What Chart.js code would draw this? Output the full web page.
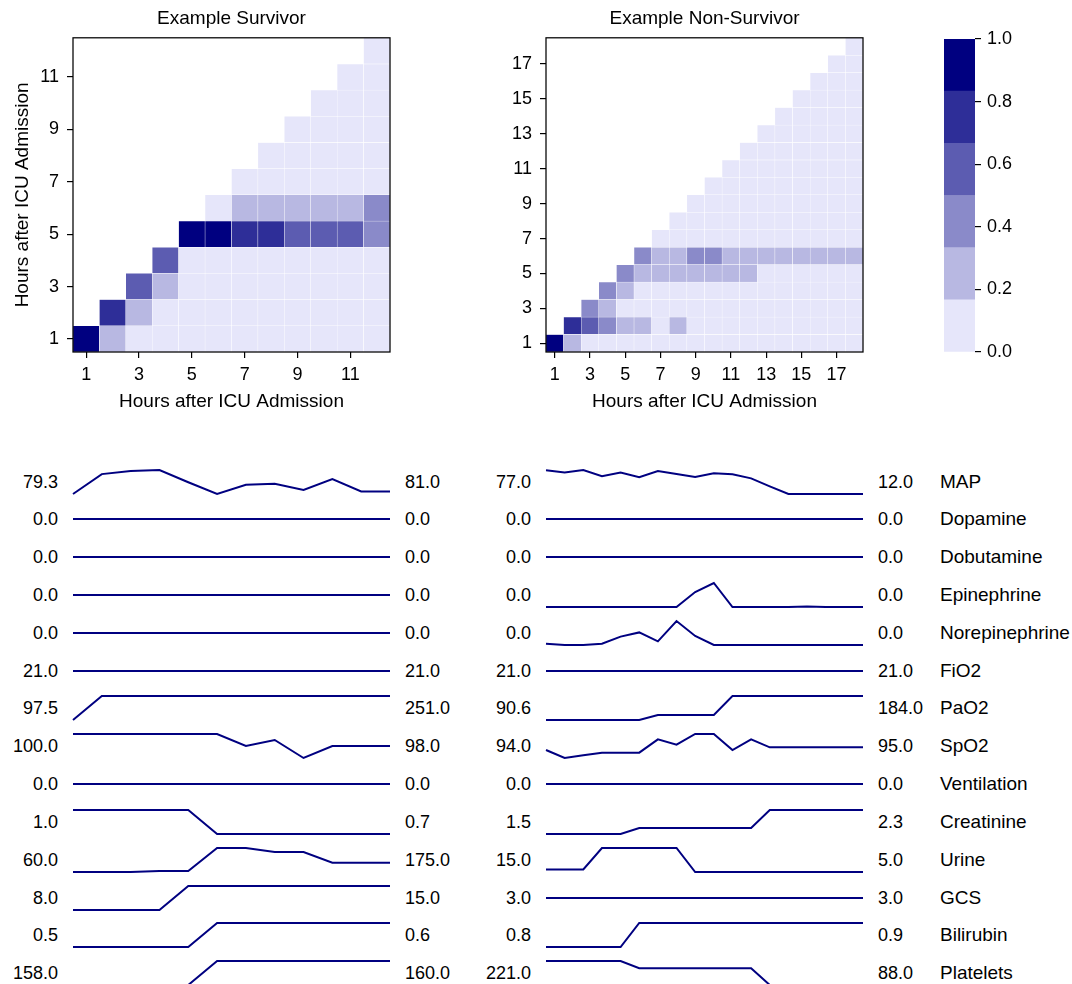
<!DOCTYPE html>
<html>
<head>
<meta charset="utf-8">
<script src="https://cdn.jsdelivr.net/npm/chart.js@4.4.1/dist/chart.umd.min.js"></script>
<style>
  html, body { margin: 0; padding: 0; background: #fff; }
  #page { position: relative; width: 1072px; height: 984px; overflow: hidden;
          font-family: "Liberation Sans", Arial, sans-serif; }
  .box { position: absolute; }
  .lbl { position: absolute; font-size: 18px; line-height: 22px; height: 22px;
         white-space: nowrap; color: #000; }
  .lbl.r { text-align: right; width: 80px; }
  .lbl.name { font-size: 19px; }
</style>
</head>
<body>
<div id="page"></div>
<script>
/* ==================== DATA ==================== */
const survivorHours = ['1','2','3','4','5','6','7','8','9','10','11','12'];
const nonSurvivorHours = ['1','2','3','4','5','6','7','8','9','10','11','12','13','14','15','16','17','18'];
const colorbarTicks = [0.0, 0.2, 0.4, 0.6, 0.8, 1.0];

// heatmap: row k (hour k+1 on y) holds the values for x = k+1 .. N
const survivorGrid = [
  [1.00, 0.28, 0.05, 0.04, 0.03, 0.03, 0.02, 0.02, 0.02, 0.02, 0.02, 0.02],
  [0.78, 0.25, 0.05, 0.04, 0.03, 0.03, 0.03, 0.02, 0.02, 0.02, 0.02],
  [0.62, 0.30, 0.06, 0.05, 0.04, 0.04, 0.03, 0.03, 0.03, 0.03],
  [0.58, 0.08, 0.06, 0.05, 0.05, 0.04, 0.04, 0.04, 0.04],
  [1.00, 0.92, 0.80, 0.74, 0.60, 0.58, 0.55, 0.45],
  [0.10, 0.30, 0.28, 0.27, 0.25, 0.26, 0.42],
  [0.12, 0.10, 0.10, 0.09, 0.09, 0.08],
  [0.10, 0.10, 0.09, 0.09, 0.08],
  [0.10, 0.09, 0.09, 0.08],
  [0.09, 0.08, 0.08],
  [0.08, 0.08],
  [0.07]
];
const nonSurvivorGrid = [
  [1.00, 0.25, 0.03, 0.03, 0.03, 0.03, 0.03, 0.03, 0.03, 0.03, 0.03, 0.03, 0.03, 0.03, 0.03, 0.03, 0.03, 0.03],
  [0.72, 0.55, 0.40, 0.30, 0.26, 0.12, 0.22, 0.05, 0.05, 0.05, 0.05, 0.05, 0.05, 0.05, 0.05, 0.05, 0.05],
  [0.45, 0.25, 0.06, 0.06, 0.06, 0.06, 0.06, 0.06, 0.06, 0.06, 0.06, 0.06, 0.06, 0.06, 0.06, 0.06],
  [0.42, 0.22, 0.07, 0.07, 0.07, 0.07, 0.07, 0.07, 0.07, 0.07, 0.07, 0.07, 0.07, 0.07, 0.07],
  [0.40, 0.24, 0.28, 0.26, 0.27, 0.25, 0.22, 0.21, 0.10, 0.10, 0.09, 0.09, 0.08, 0.08],
  [0.42, 0.25, 0.24, 0.38, 0.36, 0.22, 0.20, 0.20, 0.21, 0.20, 0.19, 0.20, 0.21],
  [0.10, 0.09, 0.09, 0.08, 0.08, 0.08, 0.08, 0.07, 0.07, 0.07, 0.07, 0.07],
  [0.09, 0.09, 0.08, 0.08, 0.08, 0.07, 0.07, 0.07, 0.07, 0.07, 0.07],
  [0.09, 0.08, 0.08, 0.08, 0.07, 0.07, 0.07, 0.07, 0.07, 0.06],
  [0.08, 0.08, 0.08, 0.07, 0.07, 0.07, 0.07, 0.06, 0.06],
  [0.08, 0.08, 0.07, 0.07, 0.07, 0.06, 0.06, 0.06],
  [0.08, 0.07, 0.07, 0.07, 0.06, 0.06, 0.06],
  [0.07, 0.07, 0.07, 0.06, 0.06, 0.06],
  [0.07, 0.07, 0.06, 0.06, 0.06],
  [0.07, 0.06, 0.06, 0.06],
  [0.06, 0.06, 0.06],
  [0.06, 0.06],
  [0.06]
];

const variables = ['MAP', 'Dopamine', 'Dobutamine', 'Epinephrine', 'Norepinephrine', 'FiO2', 'PaO2',
  'SpO2', 'Ventilation', 'Creatinine', 'Urine', 'GCS', 'Bilirubin', 'Platelets'];

// survivor, 12 hours
const sMAP = [79.3, 92.3, 94.3, 95.0, 87.0, 79.3, 85.3, 86.0, 82.0, 89.0, 81.0, 81.0];
const sDopamine = [0, 0, 0, 0, 0, 0, 0, 0, 0, 0, 0, 0];
const sDobutamine = [0, 0, 0, 0, 0, 0, 0, 0, 0, 0, 0, 0];
const sEpinephrine = [0, 0, 0, 0, 0, 0, 0, 0, 0, 0, 0, 0];
const sNorepinephrine = [0, 0, 0, 0, 0, 0, 0, 0, 0, 0, 0, 0];
const sFiO2 = [21, 21, 21, 21, 21, 21, 21, 21, 21, 21, 21, 21];
const sPaO2 = [97.5, 251, 251, 251, 251, 251, 251, 251, 251, 251, 251, 251];
const sSpO2 = [100, 100, 100, 100, 100, 100, 98, 99, 96, 98, 98, 98];
const sVentilation = [0, 0, 0, 0, 0, 0, 0, 0, 0, 0, 0, 0];
const sCreatinine = [1.0, 1.0, 1.0, 1.0, 1.0, 0.7, 0.7, 0.7, 0.7, 0.7, 0.7, 0.7];
const sUrine = [60, 60, 60, 72, 72, 355, 355, 305, 305, 175, 175, 175];
const sGCS = [8, 8, 8, 8, 15, 15, 15, 15, 15, 15, 15, 15];
const sBilirubin = [0.5, 0.5, 0.5, 0.5, 0.5, 0.6, 0.6, 0.6, 0.6, 0.6, 0.6, 0.6];
const sPlatelets = [158, 158, 158, 158, 158, 160, 160, 160, 160, 160, 160, 160];

// non-survivor, 18 hours
const nMAP = [77, 71, 78, 61, 71, 58, 75, 67, 59, 69, 66, 55, 33, 12, 12, 12, 12, 12];
const nDopamine = [0, 0, 0, 0, 0, 0, 0, 0, 0, 0, 0, 0, 0, 0, 0, 0, 0, 0];
const nDobutamine = [0, 0, 0, 0, 0, 0, 0, 0, 0, 0, 0, 0, 0, 0, 0, 0, 0, 0];
const nEpinephrine = [0, 0, 0, 0, 0, 0, 0, 0, 0.025, 0.04, 0, 0, 0, 0, 0.001, 0, 0, 0];
const nNorepinephrine = [0.002, 0, 0, 0.002, 0.014, 0.021, 0.006, 0.04, 0.015, 0, 0, 0, 0, 0, 0, 0, 0, 0];
const nFiO2 = [21, 21, 21, 21, 21, 21, 21, 21, 21, 21, 21, 21, 21, 21, 21, 21, 21, 21];
const nPaO2 = [90.6, 90.6, 90.6, 90.6, 90.6, 90.6, 110, 110, 110, 110, 184, 184, 184, 184, 184, 184, 184, 184];
const nSpO2 = [94, 91, 92, 93, 93, 93, 98, 96, 100, 100, 94, 98, 95, 95, 95, 95, 95, 95];
const nVentilation = [0, 0, 0, 0, 0, 0, 0, 0, 0, 0, 0, 0, 0, 0, 0, 0, 0, 0];
const nCreatinine = [1.5, 1.5, 1.5, 1.5, 1.5, 1.7, 1.7, 1.7, 1.7, 1.7, 1.7, 1.7, 2.3, 2.3, 2.3, 2.3, 2.3, 2.3];
const nUrine = [15, 15, 15, 100, 100, 100, 100, 100, 5, 5, 5, 5, 5, 5, 5, 5, 5, 5];
const nGCS = [3, 3, 3, 3, 3, 3, 3, 3, 3, 3, 3, 3, 3, 3, 3, 3, 3, 3];
const nBilirubin = [0.8, 0.8, 0.8, 0.8, 0.8, 0.9, 0.9, 0.9, 0.9, 0.9, 0.9, 0.9, 0.9, 0.9, 0.9, 0.9, 0.9, 0.9];
const nPlatelets = [221, 221, 221, 221, 221, 181, 181, 181, 181, 181, 181, 181, 88, 88, 88, 88, 88, 88];

const survivorSeries = [sMAP, sDopamine, sDobutamine, sEpinephrine, sNorepinephrine, sFiO2, sPaO2,
  sSpO2, sVentilation, sCreatinine, sUrine, sGCS, sBilirubin, sPlatelets];
const nonSurvivorSeries = [nMAP, nDopamine, nDobutamine, nEpinephrine, nNorepinephrine, nFiO2, nPaO2,
  nSpO2, nVentilation, nCreatinine, nUrine, nGCS, nBilirubin, nPlatelets];

/* ==================== STYLE ==================== */
Chart.defaults.font.family = '"Liberation Sans", Arial, sans-serif';
Chart.defaults.color = '#000';

const NAVY = '#000080';
const LOW = [230, 230, 250], HIGH = [0, 0, 128];
const LEVELS = 6;

function levelColor(k) {
  const t = k / (LEVELS - 1);
  const c = LOW.map((lo, i) => Math.round(lo + (HIGH[i] - lo) * t));
  return `rgb(${c[0]},${c[1]},${c[2]})`;
}
function cellColor(v) {
  return levelColor(Math.min(LEVELS - 1, Math.floor(v * LEVELS)));
}

const page = document.getElementById('page');
function box(left, top, width, height) {
  const d = document.createElement('div');
  d.className = 'box';
  Object.assign(d.style, { left: left + 'px', top: top + 'px', width: width + 'px', height: height + 'px' });
  page.appendChild(d);
  const c = document.createElement('canvas');
  d.appendChild(c);
  return c;
}
function label(text, left, center, cls) {
  const d = document.createElement('div');
  d.className = 'lbl ' + cls;
  d.textContent = text;
  d.style.left = (cls === 'r' ? left - 80 : left) + 'px';
  d.style.top = (center - 11) + 'px';
  page.appendChild(d);
}

const spines = {
  id: 'spines',
  afterDraw(chart) {
    const { ctx, chartArea: a } = chart;
    ctx.save();
    ctx.strokeStyle = '#000';
    ctx.lineWidth = 1.25;
    ctx.strokeRect(a.left, a.top, a.right - a.left, a.bottom - a.top);
    ctx.restore();
  }
};

const base = {
  animation: false, responsive: true, maintainAspectRatio: false, events: [],
};

/* ==================== HEATMAPS ==================== */
function heatmap(canvas, title, hours, grid, yTitle, yWidth) {
  const n = hours.length;
  const datasets = grid.map((row, i) => {
    const y = i + 1;
    return {
      data: hours.map((h, j) => j >= i ? [y - 0.5, y + 0.5] : null),
      backgroundColor: hours.map((h, j) => j >= i ? cellColor(row[j - i]) : 'transparent'),
      borderColor: '#fff',
      borderWidth: 0.5,
      borderSkipped: false,
      grouped: false,
      barPercentage: 1,
      categoryPercentage: 1
    };
  });

  new Chart(canvas, {
    type: 'bar',
    data: { labels: hours, datasets },
    options: {
      ...base,
      layout: { padding: { right: 10 } },
      plugins: {
        legend: { display: false },
        tooltip: { enabled: false },
        title: { display: true, text: title, fullSize: false, font: { size: 19, weight: 'normal' },
                 padding: { top: 7, bottom: 8 }, color: '#000' }
      },
      scales: {
        x: {
          grid: { offset: false, drawOnChartArea: false, color: '#000', lineWidth: 1.2, tickLength: 6 },
          border: { display: false },
          ticks: { font: { size: 18 }, padding: 6, maxRotation: 0, autoSkip: false },
          afterBuildTicks: s => { s.ticks = s.ticks.filter(t => t.value % 2 === 0); },
          afterFit: s => { s.height = 64; },
          title: { display: true, text: 'Hours after ICU Admission', font: { size: 19 }, padding: { top: 0, bottom: 3 } }
        },
        y: {
          min: 0.5, max: n + 0.5,
          grid: { drawOnChartArea: false, color: '#000', lineWidth: 1.2, tickLength: 6 },
          border: { display: false },
          ticks: { font: { size: 18 }, padding: 8, autoSkip: false },
          afterBuildTicks: s => { s.ticks = hours.filter((h, i) => i % 2 === 0).map(h => ({ value: +h })); },
          afterFit: s => { s.width = yWidth; },
          title: { display: !!yTitle, text: yTitle, font: { size: 19 }, padding: { top: 11, bottom: 0 } }
        }
      }
    },
    plugins: [spines]
  });
}

heatmap(box(0, 0, 400, 416), 'Example Survivor', survivorHours, survivorGrid, 'Hours after ICU Admission', 73);
heatmap(box(496, 0, 377, 416), 'Example Non-Survivor', nonSurvivorHours, nonSurvivorGrid, '', 50);

/* ==================== COLORBAR ==================== */
const bands = [...Array(LEVELS).keys()];
new Chart(box(944, 0, 128, 380), {
  type: 'bar',
  data: {
    labels: [''],
    datasets: bands.map(k => ({
      data: [[k / LEVELS, (k + 1) / LEVELS]],
      backgroundColor: levelColor(k),
      borderWidth: 0,
      grouped: false,
      barPercentage: 1,
      categoryPercentage: 1
    }))
  },
  options: {
    ...base,
    layout: { padding: { top: 39, bottom: 28 } },
    plugins: { legend: { display: false }, tooltip: { enabled: false } },
    scales: {
      x: { display: false },
      y: {
        position: 'right', min: 0, max: 1,
        grid: { drawOnChartArea: false, color: '#000', lineWidth: 1.2, tickLength: 6 },
        border: { display: false },
        ticks: { font: { size: 18 }, padding: 6, callback: v => v.toFixed(1) },
        afterBuildTicks: s => { s.ticks = colorbarTicks.map(v => ({ value: v })); },
        afterFit: s => { s.width = 97; }
      }
    }
  }
});

/* ==================== SPARKLINES ==================== */
const ROW0 = 481.5, ROW_STEP = 37.83, HALF = 12;

function sparkline(left, width, center, values) {
  new Chart(box(left - 2, center - HALF - 2, width + 4, 2 * HALF + 4), {
    type: 'line',
    data: {
      labels: values.map((v, i) => i + 1),
      datasets: [{
        data: values, borderColor: NAVY, borderWidth: 2, pointRadius: 0,
        tension: 0, clip: false, fill: false
      }]
    },
    options: {
      ...base,
      layout: { padding: 2 },
      plugins: { legend: { display: false }, tooltip: { enabled: false } },
      scales: {
        x: { display: false, offset: false },
        y: { display: false, bounds: 'data', grace: 0 }
      }
    }
  });
}

function panel(series, left, right, withNames) {
  series.forEach((values, i) => {
    const center = ROW0 + ROW_STEP * i;
    sparkline(left, right - left, center, values);
    label(values[0].toFixed(1), left - 15, center, 'r');
    label(values[values.length - 1].toFixed(1), right + 15, center, '');
    if (withNames) label(variables[i], 940, center, 'name');
  });
}

panel(survivorSeries, 73, 390, false);
panel(nonSurvivorSeries, 546, 863, true);
</script>
</body>
</html>
